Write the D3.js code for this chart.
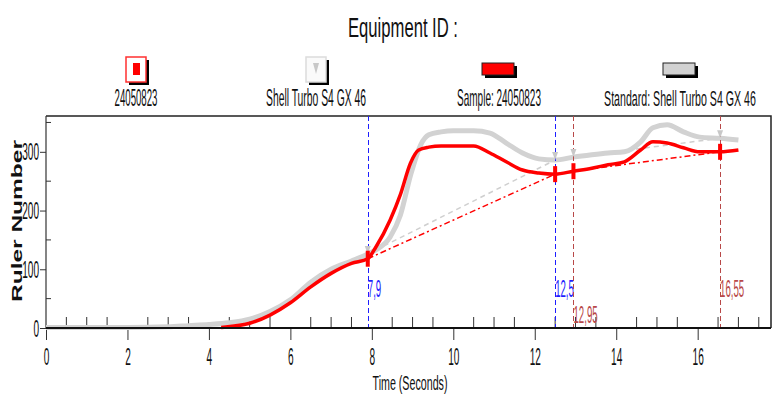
<!DOCTYPE html>
<html>
<head>
<meta charset="utf-8">
<script src="https://cdn.jsdelivr.net/npm/d3@7"></script>
<style>
  html, body { margin: 0; padding: 0; background: #fff; }
  svg { display: block; }
  text { font-family: "Liberation Sans", Arial, sans-serif; }
</style>
</head>
<body>
<svg id="chart" width="775" height="396"></svg>
<script>
// Run curves: sample vs standard
const sampleTime  = [4.3, 5.0, 5.5, 6.0, 6.5, 7.0, 7.5, 7.9, 8.1, 8.45, 8.7, 8.95, 9.15, 9.4, 9.7, 10.0, 10.5, 10.9, 11.3, 11.7, 12.1, 12.5, 12.95, 13.4, 13.8, 14.2, 14.6, 14.9, 15.25, 15.65, 16.05, 16.55, 17.0];
const sampleValue = [1, 8, 22, 43, 70, 93, 110, 118, 138, 184, 227, 281, 303, 308, 310, 310, 310, 298, 283, 269, 264, 262, 267, 272, 278, 283, 303, 317, 315, 307, 300, 300, 303];

const standardTime  = [0, 1, 2, 3, 3.5, 4.0, 4.5, 5.0, 5.5, 6.0, 6.5, 7.0, 7.5, 7.9, 8.1, 8.45, 8.7, 8.95, 9.2, 9.4, 9.7, 10.0, 10.5, 10.9, 11.3, 11.7, 12.1, 12.5, 12.95, 13.4, 13.8, 14.2, 14.6, 14.9, 15.25, 15.65, 16.05, 16.55, 17.0];
const standardValue = [1, 1, 1, 2, 4, 6, 9, 15, 28, 48, 78, 100, 114, 126, 133, 155, 192, 260, 312, 329, 334, 336, 336, 332, 315, 298, 288, 286, 291, 295, 298, 300, 317, 341, 346, 334, 325, 323, 320];

// marker lines (time, label, colour group) and curve values at each marker
const markerTime  = [7.9, 12.5, 12.95, 16.55];
const markerLabel = ["7,9", "12,5", "12,95", "16,55"];
const markerGroup = ["blue", "blue", "brown", "brown"];
const markerSample   = [118, 262, 267, 300];
const markerStandard = [126, 286, 291, 323];

const legendLabels = ["24050823", "Shell Turbo S4 GX 46", "Sample: 24050823", "Standard: Shell Turbo S4 GX 46"];
const xTicks = [0, 2, 4, 6, 8, 10, 12, 14, 16];
const yTicks = [0, 100, 200, 300];

const svg = d3.select("#chart");
const M = { left: 46, right: 771, top: 116, bottom: 328 };
const x = d3.scaleLinear().domain([0, 17.8]).range([M.left, M.right]);
const y = d3.scaleLinear().domain([0, 361]).range([M.bottom, M.top]);

const RED = "#ff0000", GRAY = "#d2d2d2", BLUE = "#1e1eff", BROWN = "#b84848";
const col = g => g === "blue" ? BLUE : BROWN;
const SQ = 0.44; // horizontal squeeze for the tall, narrow lettering

// tall narrow text: squeezed horizontally so it spans the given width
function narrow(parent, cx, by, str, size, fill, width) {
  const t = parent.append("text").attr("x", 0).attr("y", 0).attr("text-anchor", "middle")
    .attr("font-size", size).attr("fill", fill).text(str);
  const natural = t.node().getComputedTextLength();
  const sx = width / natural;
  t.attr("transform", `translate(${cx},${by}) scale(${sx},1)`);
  return t;
}

// title
narrow(svg, 403, 37, "Equipment ID :", 28, "#111", 110);

// legend
const legX = [136, 316, 499, 680];
const legW = [43, 100, 84, 152];
const lg = svg.append("g");
// icon 1: framed red bar
lg.append("rect").attr("x", legX[0] - 7).attr("y", 60).attr("width", 20).attr("height", 25).attr("fill", "#000");
lg.append("rect").attr("x", legX[0] - 10).attr("y", 57).attr("width", 20).attr("height", 25).attr("fill", "#fff").attr("stroke", "#ff3030").attr("stroke-width", 1.5);
lg.append("rect").attr("x", legX[0] - 3).attr("y", 63).attr("width", 7).attr("height", 12).attr("fill", RED);
// icon 2: framed gray triangle
lg.append("rect").attr("x", legX[1] - 7).attr("y", 60).attr("width", 20).attr("height", 25).attr("fill", "#000");
lg.append("rect").attr("x", legX[1] - 10).attr("y", 57).attr("width", 20).attr("height", 25).attr("fill", "#fafafa").attr("stroke", "#dcdcdc").attr("stroke-width", 1.5);
lg.append("path").attr("d", `M${legX[1] - 3},63 L${legX[1] + 3},63 L${legX[1]},74 Z`).attr("fill", "#c8c8c8");
// icon 3 & 4: line swatches
[[legX[2], RED], [legX[3], GRAY]].forEach(([cx, c]) => {
  lg.append("rect").attr("x", cx - 14).attr("y", 66).attr("width", 32).attr("height", 12).attr("fill", "#000");
  lg.append("rect").attr("x", cx - 17).attr("y", 63).attr("width", 32).attr("height", 12).attr("fill", c).attr("stroke", "#222").attr("stroke-width", 1);
});
legendLabels.forEach((t, i) => narrow(lg, legX[i], 106, t, 23, "#111", legW[i]));

// frame (top and right)
svg.append("path").attr("d", `M${M.left},${M.top} H${M.right} V${M.bottom}`)
  .attr("fill", "none").attr("stroke", "#222").attr("stroke-width", 1.5);

// x axis: minor ticks inside, major ticks outside
const minorX = d3.range(0.5, 17.8, 0.5).filter(v => v % 2 !== 0);
svg.append("g").selectAll("line").data(minorX).join("line")
  .attr("x1", d => x(d)).attr("x2", d => x(d)).attr("y1", M.bottom).attr("y2", M.bottom - 11)
  .attr("stroke", "#333").attr("stroke-width", 1);
const xAxis = d3.axisBottom(x).tickValues(xTicks).tickSize(12).tickFormat(d3.format("d"));
const gx = svg.append("g").attr("transform", `translate(0,${M.bottom})`).call(xAxis);
gx.select(".domain").remove();
gx.selectAll(".tick line").attr("stroke", "#333");
gx.selectAll(".tick text").attr("font-size", 23).attr("fill", "#111")
  .attr("font-family", "Liberation Sans, Arial, sans-serif")
  .attr("dy", null).attr("y", 37).attr("transform", `scale(${SQ},1)`);

// y axis: minor ticks inside, major ticks outside
const minorY = [50, 150, 250, 350];
svg.append("g").selectAll("line").data(minorY).join("line")
  .attr("x1", M.left).attr("x2", M.left + 5).attr("y1", d => y(d)).attr("y2", d => y(d))
  .attr("stroke", "#333");
const yAxis = d3.axisLeft(y).tickValues(yTicks).tickSize(6);
const gy = svg.append("g").attr("transform", `translate(${M.left},0)`).call(yAxis);
gy.select(".domain").remove();
gy.selectAll(".tick line").attr("stroke", "#333");
gy.selectAll(".tick text").attr("font-size", 23).attr("fill", "#111")
  .attr("font-family", "Liberation Sans, Arial, sans-serif")
  .attr("dy", null).attr("y", 8).attr("x", -7 / SQ).attr("transform", `scale(${SQ},1)`);
svg.append("line").attr("x1", M.left).attr("x2", M.left).attr("y1", M.top).attr("y2", M.bottom)
  .attr("stroke", "#333").attr("stroke-width", 1.2);

// axis titles
narrow(svg, 410, 390, "Time (Seconds)", 21, "#111", 75);
svg.append("text").attr("transform", "translate(22,221) rotate(-90)").attr("text-anchor", "middle")
  .attr("font-weight", "bold").attr("font-size", 15).attr("fill", "#111")
  .attr("textLength", 162).attr("lengthAdjust", "spacingAndGlyphs").text("Ruler Number");

// curves
const line = d3.line().x(d => x(d[0])).y(d => y(d[1])).curve(d3.curveMonotoneX);
const stdData = standardTime.map((t, i) => [t, standardValue[i]]);
const smpData = sampleTime.map((t, i) => [t, sampleValue[i]]);

// baseline segments between marker pairs (standard)
[[0, 1], [2, 3]].forEach(([a, b]) => {
  svg.append("line").attr("x1", x(markerTime[a])).attr("y1", y(markerStandard[a]))
    .attr("x2", x(markerTime[b])).attr("y2", y(markerStandard[b]))
    .attr("stroke", "#cfcfcf").attr("stroke-width", 1.5).attr("stroke-dasharray", "5,4");
});

svg.append("path").attr("d", line(stdData)).attr("fill", "none").attr("stroke", GRAY).attr("stroke-width", 5);

// baseline segments between marker pairs (sample)
[[0, 1], [2, 3]].forEach(([a, b]) => {
  svg.append("line").attr("x1", x(markerTime[a])).attr("y1", y(markerSample[a]))
    .attr("x2", x(markerTime[b])).attr("y2", y(markerSample[b]))
    .attr("stroke", RED).attr("stroke-width", 1.5).attr("stroke-dasharray", "6,3,2,3");
});

svg.append("path").attr("d", line(smpData)).attr("fill", "none").attr("stroke", RED).attr("stroke-width", 3.5);

// marker verticals, marks on the curves and labels
markerTime.forEach((t, i) => {
  const px = Math.round(x(t)) + 0.5;
  svg.append("line").attr("x1", px).attr("x2", px).attr("y1", M.top).attr("y2", M.bottom)
    .attr("stroke", col(markerGroup[i])).attr("stroke-width", 1).attr("stroke-dasharray", "5,3");
  svg.append("path")
    .attr("d", `M${x(t) - 3},${y(markerStandard[i]) - 8} L${x(t) + 3},${y(markerStandard[i]) - 8} L${x(t)},${y(markerStandard[i])} Z`)
    .attr("fill", "#c8c8c8");
  svg.append("rect").attr("x", x(t) - 2).attr("y", y(markerSample[i]) - 8).attr("width", 4).attr("height", 16).attr("fill", RED);
  svg.append("text").attr("font-size", 23).attr("fill", col(markerGroup[i]))
    .attr("transform", `translate(${x(t)},${i === 2 ? 323 : 297}) scale(0.42,1)`).text(markerLabel[i]);
});

// thick x axis line on top
svg.append("line").attr("x1", M.left).attr("x2", M.right).attr("y1", M.bottom).attr("y2", M.bottom)
  .attr("stroke", "#111").attr("stroke-width", 2);
</script>
</body>
</html>
